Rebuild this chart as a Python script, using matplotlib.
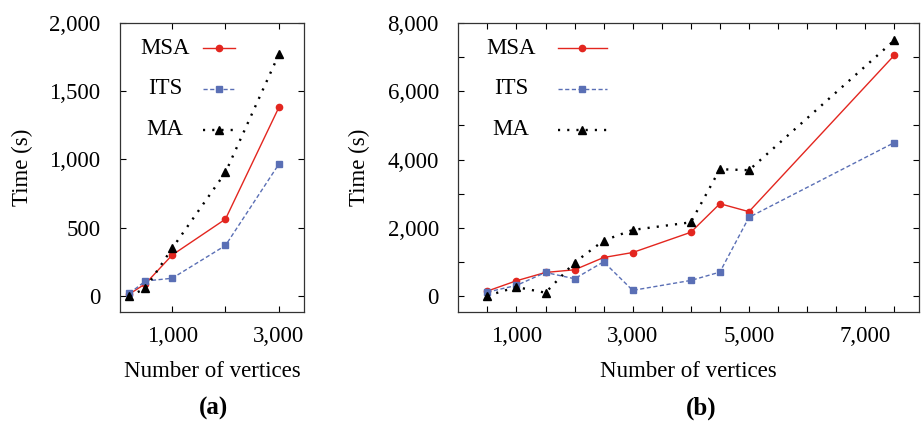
import numpy as np
import matplotlib
matplotlib.use("Agg")
import matplotlib.pyplot as plt
from matplotlib.lines import Line2D

plt.rcParams["font.family"] = ["Liberation Serif", "DejaVu Serif"]
plt.rcParams["font.size"] = 16.5

# (a) small graphs
x_a = [200, 500, 1000, 2000, 3000]
msa_a = [15, 90, 300, 563, 1380]
its_a = [20, 110, 130, 370, 965]
ma_a = [0, 56, 349, 905, 1768]

# (b) larger graphs
x_b = [500, 1000, 1500, 2000, 2500, 3000, 4000, 4500, 5000, 7500]
msa_b = [155, 456, 699, 777, 1136, 1282, 1874, 2709, 2476, 7049]
its_b = [126, 320, 699, 515, 1010, 175, 466, 709, 2311, 4495]
ma_b = [20, 272, 107, 990, 1631, 1942, 2165, 3718, 3689, 7485]

names = ["MSA", "ITS", "MA"]
red = "#e3261f"
blue = "#5a6fb5"
styles = [
    dict(color=red, ls="-", lw=1.0, marker="o", ms=4.5),
    dict(color=blue, ls=(0, (3, 1.8)), lw=1.0, marker="s", ms=4),
    dict(color="black", ls=(0, (0.9, 3.0)), lw=1.7, marker="^", ms=5.5),
]


def fmt(v):
    return f"{v:,.0f}"


fig = plt.figure(figsize=(9.22, 4.23), dpi=100)
ax1 = fig.add_axes([0.130, 0.263, 0.1996, 0.6832])
ax2 = fig.add_axes([0.4971, 0.263, 0.4993, 0.6832])

for ax, xs, series in [(ax1, x_a, [msa_a, its_a, ma_a]),
                       (ax2, x_b, [msa_b, its_b, ma_b])]:
    for ys, st in zip(series, styles):
        ax.plot(xs, ys, **st, clip_on=False, zorder=3)
    ax.tick_params(direction="in", length=4, width=0.8, top=True, right=True,
                   labelsize=16.5)
    ax.tick_params(axis="y", pad=14)
    ax.tick_params(axis="x", pad=10)
    for s in ax.spines.values():
        s.set_linewidth(0.9)
        s.set_color("#333333")
    ax.set_ylabel("Time (s)", fontsize=16.5)
    ax.set_xlabel("Number of vertices", fontsize=16.5, labelpad=10)

# axis limits / ticks
ax1.set_xlim(20, 3470)
ax1.set_ylim(-115, 2000)
ax1.set_xticks([1000, 2000, 3000], [fmt(1000), "", fmt(3000)])
ax1.set_yticks(np.arange(0, 2001, 500), [fmt(v) for v in np.arange(0, 2001, 500)])
ax1.yaxis.set_label_coords(-0.473, 0.5)

ax2.set_xlim(0, 7920)
ax2.set_ylim(-450, 8000)
xt = np.arange(500, 7501, 500)
ax2.set_xticks(xt, [fmt(v) if v % 2000 == 1000 else "" for v in xt])
yt = np.arange(0, 8001, 1000)
ax2.set_yticks(yt, [fmt(v) if v % 2000 == 0 else "" for v in yt])
ax2.yaxis.set_label_coords(-0.192, 0.5)

# hand-drawn keys (text centred, sample line to the right)
rows = [0.9125, 0.771, 0.629]
for ax, tx, l0, l1 in [(ax1, 0.245, 0.451, 0.625), (ax2, 0.1145, 0.217, 0.322)]:
    for name, st, yy in zip(names, styles, rows):
        ax.text(tx, yy, name, transform=ax.transAxes, ha="center", va="center",
                fontsize=16.5)
        ax.add_line(Line2D([l0, l1], [yy, yy], transform=ax.transAxes,
                           color=st["color"], ls=st["ls"], lw=st["lw"]))
        ax.add_line(Line2D([(l0 + l1) / 2], [yy], transform=ax.transAxes,
                           color=st["color"], marker=st["marker"], ms=st["ms"],
                           ls="none"))

fig.text(213 / 922, 1 - 408 / 423, "(a)", ha="center", va="center",
         fontsize=18, fontweight="bold")
fig.text(701 / 922, 1 - 408 / 423, "(b)", ha="center", va="center",
         fontsize=18, fontweight="bold")

fig.savefig("out.png", dpi=100)
